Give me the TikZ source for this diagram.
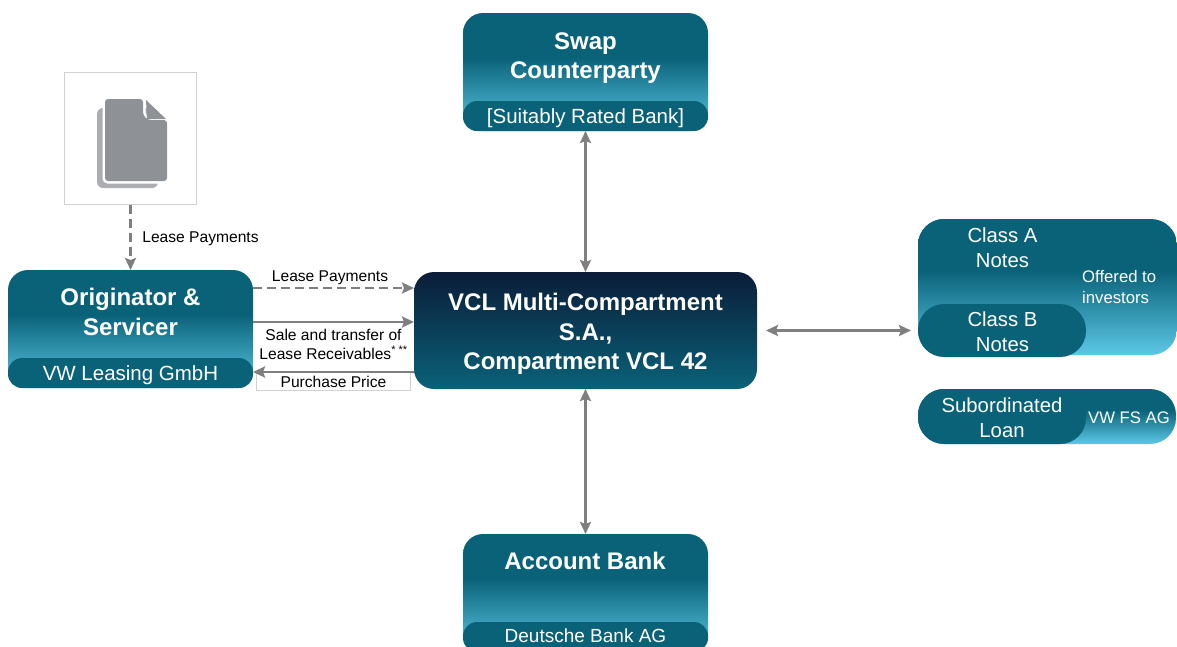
\documentclass[tikz,border=0pt]{standalone}
\usepackage{fontspec}
\usetikzlibrary{arrows.meta}
\setmainfont{Liberation Sans}
\definecolor{tealtop}{HTML}{0A6279}
\definecolor{tealend}{HTML}{5CC8E6}
\definecolor{navytop}{HTML}{0A1C38}
\definecolor{arrowgray}{HTML}{7F7F7F}
\definecolor{pagefront}{HTML}{8E9196}
\definecolor{pageback}{HTML}{ABADB1}
\pgfdeclareverticalshading{tealbox}{100bp}{color(0bp)=(tealend); color(25bp)=(tealend); color(56bp)=(tealtop); color(100bp)=(tealtop)}
\pgfdeclareverticalshading{navybox}{100bp}{color(0bp)=(tealtop); color(25bp)=(tealtop); color(75bp)=(navytop); color(100bp)=(navytop)}
\tikzset{
  partybox/.style={shading=tealbox, rounded corners=20pt, inner sep=0pt, outer sep=0pt, minimum width=245pt, minimum height=118pt},
  subbar/.style={fill=tealtop, text=white, rounded corners=14pt, inner sep=0pt, outer sep=0pt, minimum width=245pt, minimum height=30pt, text height=15pt, text depth=0pt, font=\fontsize{20.5}{24}\selectfont},
  notebox/.style={shading=tealbox, rounded corners=26pt, inner sep=0pt, outer sep=0pt},
  notepill/.style={fill=tealtop, rounded corners=26pt, inner sep=0pt, outer sep=0pt, minimum width=168pt},
  pilltext/.style={text=white, align=center, inner sep=0pt, font=\fontsize{20.3}{25}\selectfont},
  headtext/.style={text=white, align=center, inner sep=0pt, font=\bfseries\fontsize{24}{29.3}\selectfont},
  sidetext/.style={text=white, align=left, font=\fontsize{16.7}{21}\selectfont},
  flowtext/.style={align=center, inner sep=0pt, font=\fontsize{15.6}{19}\selectfont},
  flow/.style={->, draw=arrowgray, line width=2.5pt},
  flowdash/.style={flow, dash pattern=on 9pt off 5pt},
  flowboth/.style={<->, draw=arrowgray, line width=2.5pt}
}
\begin{document}
\begin{tikzpicture}[>={Stealth[length=12pt, width=11pt, inset=2pt]}, x=1pt, y=-1pt]
  \useasboundingbox (0, 0) rectangle (1177, 646);

  % document icon
  \node[draw=black!18, line width=1pt, minimum size=132pt, inner sep=0pt] (doc) at (130.5, 138) {};
  \fill[pageback, rounded corners=6pt] (97, 108) rectangle (158, 188);
  \path[fill=pagefront, preaction={draw=white, line width=5pt}, rounded corners=3pt] (105, 99) -- (143, 99) -- (143, 115) -- (148, 120) -- (167, 120) -- (167, 181) -- (105, 181) -- cycle;
  \fill[pagefront] (146, 100) -- (166, 119) -- (147, 119) -- cycle;

  % parties
  \node[partybox] (swap) at (585.5, 72) {};
  \node[subbar, anchor=south] (swapname) at (swap.south) {[Suitably Rated Bank]};
  \node[headtext] (swaptitle) at (585.5, 58) {Swap\\Counterparty};

  \node[partybox] (orig) at (130.5, 329) {};
  \node[subbar, anchor=south] (origname) at (orig.south) {VW Leasing GmbH};
  \node[headtext] (origtitle) at (130.5, 312) {Originator \&\\Servicer};

  \node[partybox] (acct) at (585.5, 593) {};
  \node[subbar, anchor=south, text height=11pt, font=\fontsize{19}{24}\selectfont] (acctname) at (acct.south) {Deutsche Bank AG};
  \node[headtext] (accttitle) at (585, 561) {Account Bank};

  \node[shading=navybox, rounded corners=20pt, inner sep=0pt, outer sep=0pt, minimum width=343pt, minimum height=117pt] (vcl) at (585.5, 330.5) {};
  \node[headtext] (vcltitle) at (585.5, 334) {VCL Multi-Compartment\\S.A.,\\Compartment VCL 42};

  % notes
  \node[notebox, minimum width=259pt, minimum height=136pt] (notes) at (1047.5, 287) {};
  \node[notepill, minimum height=53pt, anchor=north west] (classa) at (notes.north west) {};
  \node[notepill, minimum height=53pt, anchor=south west] (classb) at (918, 357) {};
  \node[pilltext] (classatext) at (1002.5, 248) {Class A\\Notes};
  \node[pilltext] (classbtext) at (1002.5, 332) {Class B\\Notes};
  \node[sidetext, anchor=west, inner sep=0pt] (offered) at (1082, 287) {Offered to\\investors};

  \node[notebox, minimum width=258pt, minimum height=55pt] (loan) at (1047, 416.5) {};
  \node[notepill, minimum height=55pt, anchor=west] (subloan) at (loan.west) {};
  \node[pilltext] (subloantext) at (1002, 418) {Subordinated\\Loan};
  \node[sidetext, anchor=west, inner sep=0pt] (vwfs) at (1088, 418) {VW FS AG};

  % flows
  \coordinate (leasey) at (0, 288);
  \coordinate (saley) at (0, 322);
  \coordinate (pricey) at (0, 372);
  \node[flowtext] (leaselabel) at (200.5, 238.5) {Lease Payments};
  \node[flowtext] (leaselabelb) at (330, 277.5) {Lease Payments};
  \node[flowtext] (salelabel) at (333.5, 344) {Sale and transfer of\\Lease Receivables\textsuperscript{* **}};
  \node[flowtext, draw=black!18, line width=1pt, minimum width=154pt, minimum height=18pt] (pricelabel) at (333.5, 381.5) {Purchase Price};

  \draw[flowdash] (doc.south) -- (orig.north);
  \draw[flowdash] (orig.east |- leasey) -- (vcl.west |- leasey);
  \draw[flow] (orig.east |- saley) -- (vcl.west |- saley);
  \draw[flow] (vcl.west |- pricey) -- (orig.east |- pricey);
  \draw[flowboth] (swap.south) -- (vcl.north);
  \draw[flowboth] (acct.north) -- (vcl.south);
  \draw[flowboth, shorten <=9pt, shorten >=7pt] (vcl.east) -- (vcl.east -| notes.west);
\end{tikzpicture}
\end{document}
